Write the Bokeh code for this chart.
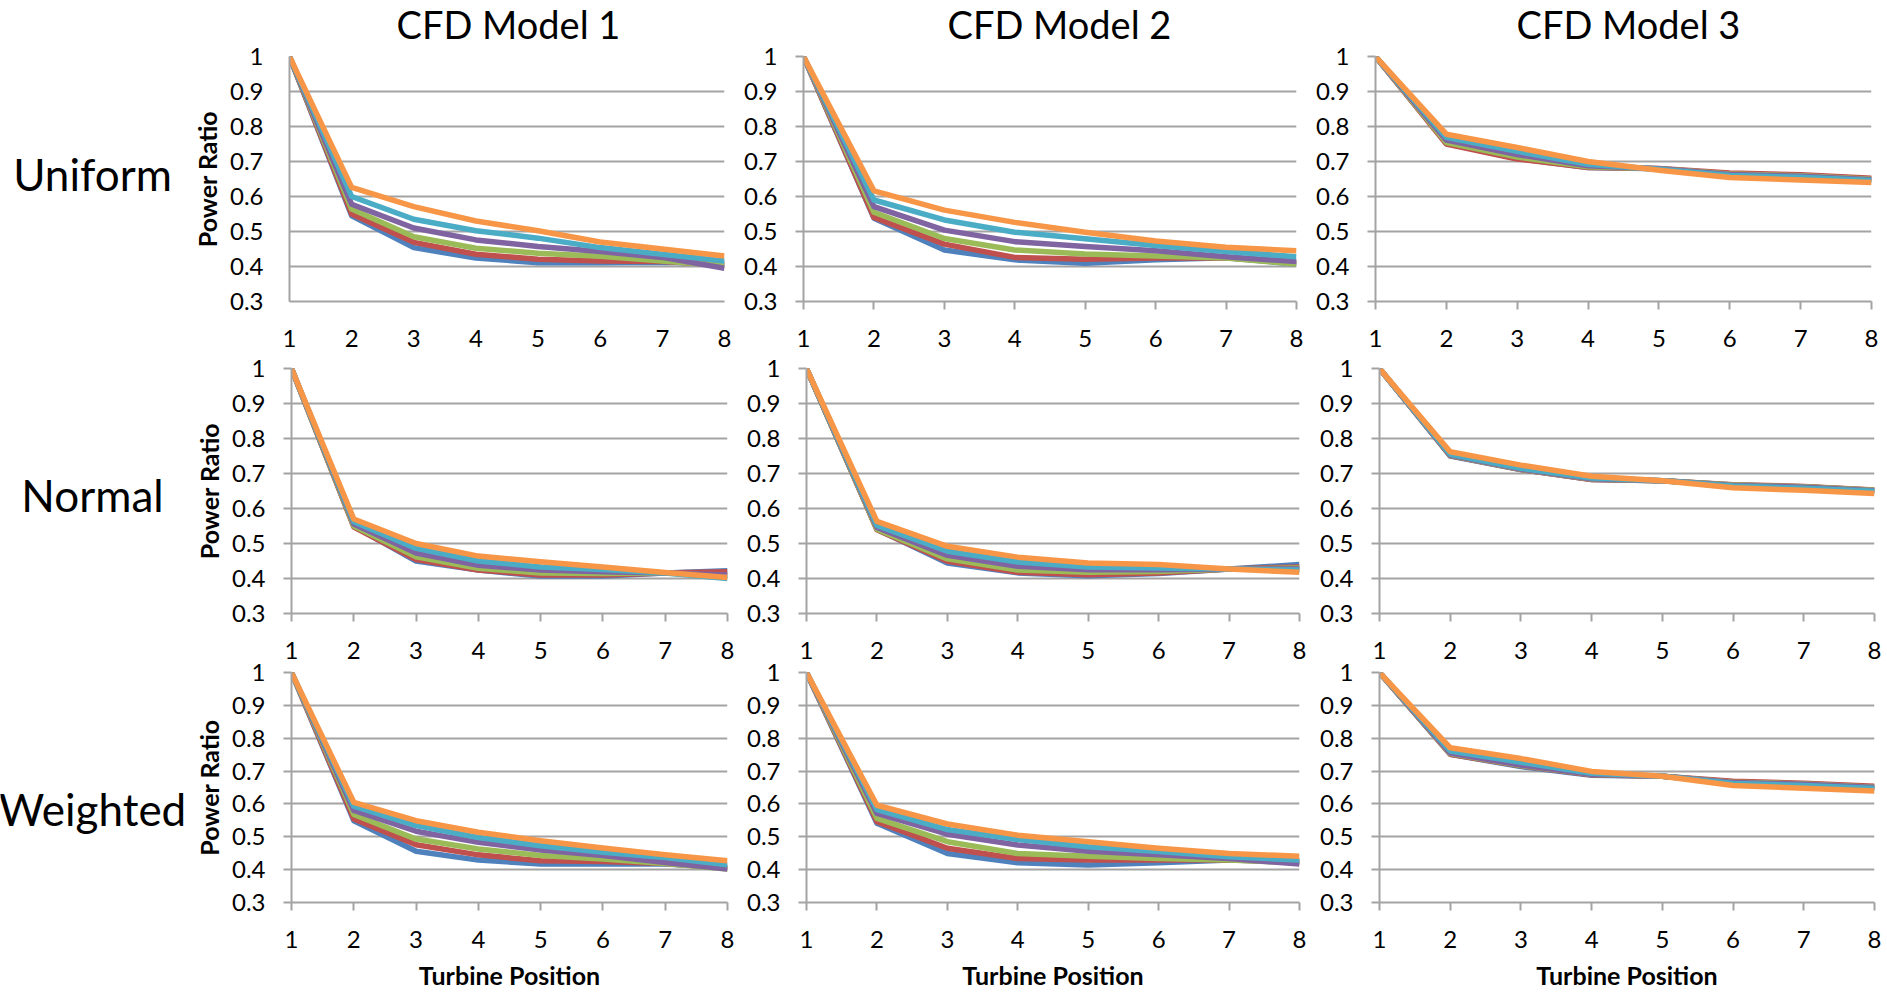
from bokeh.plotting import figure
from bokeh.layouts import column, row
from bokeh.models import Range1d, FixedTicker, CustomJSTickFormatter
from bokeh.core.properties import value
from bokeh.embed import file_html
from bokeh.resources import INLINE

# ---------------------------------------------------------------- data
turbine_positions = [1, 2, 3, 4, 5, 6, 7, 8]
power_ticks = [0.3, 0.4, 0.5, 0.6, 0.7, 0.8, 0.9, 1.0]

model_titles = ["CFD Model 1", "CFD Model 2", "CFD Model 3"]
distribution_names = ["Uniform", "Normal", "Weighted"]

# six cases per panel, drawn in this order (last one on top)
case_colors = ["#4F81BD", "#C0504D", "#9BBB59", "#8064A2", "#4BACC6", "#F79646"]

uniform_model1 = [
    [1, 0.545, 0.454, 0.424, 0.411, 0.411, 0.412, 0.409],
    [1, 0.550, 0.469, 0.435, 0.421, 0.416, 0.414, 0.405],
    [1, 0.564, 0.485, 0.452, 0.438, 0.429, 0.416, 0.402],
    [1, 0.578, 0.510, 0.476, 0.457, 0.443, 0.426, 0.395],
    [1, 0.600, 0.535, 0.502, 0.481, 0.454, 0.435, 0.416],
    [1, 0.626, 0.571, 0.530, 0.502, 0.470, 0.450, 0.430],
]
uniform_model2 = [
    [1, 0.538, 0.447, 0.419, 0.409, 0.419, 0.425, 0.407],
    [1, 0.540, 0.464, 0.426, 0.421, 0.424, 0.425, 0.411],
    [1, 0.555, 0.480, 0.447, 0.436, 0.430, 0.424, 0.407],
    [1, 0.571, 0.504, 0.471, 0.457, 0.445, 0.428, 0.414],
    [1, 0.590, 0.533, 0.498, 0.479, 0.460, 0.443, 0.428],
    [1, 0.616, 0.561, 0.526, 0.498, 0.473, 0.455, 0.445],
]
uniform_model3 = [
    [1, 0.752, 0.709, 0.683, 0.679, 0.664, 0.660, 0.650],
    [1, 0.750, 0.707, 0.683, 0.680, 0.667, 0.662, 0.652],
    [1, 0.754, 0.713, 0.685, 0.679, 0.664, 0.659, 0.649],
    [1, 0.761, 0.720, 0.688, 0.679, 0.663, 0.658, 0.648],
    [1, 0.769, 0.729, 0.692, 0.678, 0.660, 0.655, 0.646],
    [1, 0.778, 0.740, 0.700, 0.675, 0.654, 0.647, 0.640],
]
normal_model1 = [
    [1, 0.550, 0.450, 0.424, 0.407, 0.407, 0.416, 0.422],
    [1, 0.547, 0.454, 0.424, 0.410, 0.410, 0.416, 0.419],
    [1, 0.550, 0.462, 0.429, 0.416, 0.414, 0.416, 0.407],
    [1, 0.556, 0.473, 0.438, 0.424, 0.419, 0.416, 0.410],
    [1, 0.562, 0.486, 0.450, 0.433, 0.426, 0.416, 0.400],
    [1, 0.570, 0.500, 0.464, 0.448, 0.433, 0.417, 0.403],
]
normal_model2 = [
    [1, 0.541, 0.444, 0.416, 0.408, 0.414, 0.427, 0.440],
    [1, 0.539, 0.449, 0.418, 0.411, 0.416, 0.427, 0.433],
    [1, 0.541, 0.456, 0.424, 0.418, 0.420, 0.427, 0.430],
    [1, 0.546, 0.466, 0.435, 0.425, 0.425, 0.427, 0.427],
    [1, 0.552, 0.478, 0.447, 0.433, 0.430, 0.427, 0.424],
    [1, 0.563, 0.492, 0.461, 0.444, 0.440, 0.427, 0.418],
]
normal_model3 = [
    [1, 0.750, 0.711, 0.683, 0.679, 0.667, 0.662, 0.652],
    [1, 0.751, 0.711, 0.683, 0.679, 0.668, 0.663, 0.653],
    [1, 0.752, 0.712, 0.684, 0.679, 0.667, 0.662, 0.652],
    [1, 0.753, 0.713, 0.685, 0.679, 0.666, 0.661, 0.651],
    [1, 0.755, 0.715, 0.687, 0.679, 0.664, 0.658, 0.649],
    [1, 0.762, 0.724, 0.692, 0.679, 0.659, 0.652, 0.643],
]
weighted_model1 = [
    [1, 0.549, 0.456, 0.429, 0.417, 0.417, 0.417, 0.407],
    [1, 0.554, 0.476, 0.445, 0.427, 0.425, 0.419, 0.405],
    [1, 0.568, 0.493, 0.463, 0.443, 0.432, 0.419, 0.402],
    [1, 0.580, 0.517, 0.483, 0.460, 0.443, 0.422, 0.402],
    [1, 0.593, 0.534, 0.498, 0.473, 0.453, 0.437, 0.415],
    [1, 0.605, 0.549, 0.514, 0.488, 0.466, 0.445, 0.427],
]
weighted_model2 = [
    [1, 0.541, 0.449, 0.421, 0.414, 0.421, 0.429, 0.424],
    [1, 0.546, 0.465, 0.434, 0.429, 0.429, 0.429, 0.424],
    [1, 0.556, 0.485, 0.449, 0.441, 0.434, 0.429, 0.421],
    [1, 0.571, 0.508, 0.475, 0.456, 0.445, 0.434, 0.417],
    [1, 0.583, 0.522, 0.492, 0.470, 0.455, 0.439, 0.429],
    [1, 0.596, 0.539, 0.505, 0.485, 0.465, 0.449, 0.441],
]
weighted_model3 = [
    [1, 0.751, 0.714, 0.687, 0.684, 0.666, 0.661, 0.651],
    [1, 0.751, 0.716, 0.689, 0.684, 0.669, 0.663, 0.654],
    [1, 0.753, 0.717, 0.690, 0.684, 0.666, 0.661, 0.651],
    [1, 0.755, 0.718, 0.690, 0.684, 0.665, 0.660, 0.650],
    [1, 0.761, 0.727, 0.693, 0.684, 0.662, 0.656, 0.647],
    [1, 0.771, 0.738, 0.699, 0.684, 0.656, 0.648, 0.639],
]

panel_data = [
    [uniform_model1, uniform_model2, uniform_model3],
    [normal_model1, normal_model2, normal_model3],
    [weighted_model1, weighted_model2, weighted_model3],
]

# ---------------------------------------------------------------- styling
FONT = "Lato"
GRID_GRAY = "#A3A3A3"
LABEL_COL_W = 188
TITLE_STRIP_H = 46
OVERLAP = 20  # canvases reach into their neighbours so edge labels are not clipped

# per-row: figure height, top border, bottom border, top margin (all in px)
row_specs = [
    (306 + 2 * OVERLAP, 10 + OVERLAP, 51 + OVERLAP, -OVERLAP),
    (309 + 2 * OVERLAP, 16 + OVERLAP, 48 + OVERLAP, -2 * OVERLAP),
    (331 + OVERLAP, 11 + OVERLAP, 90, -2 * OVERLAP),
]
# per-row, per-column: figure width, left border, right border
col_geoms = [
    [(550, 99, 14), (570, 65, 12), (579, 67, 16)],
    [(554, 103, 15), (570, 64, 13), (575, 67, 13)],
    [(554, 103, 15), (570, 64, 13), (575, 67, 13)],
]


def make_panel(series, r, c):
    h, bt, bb, _ = row_specs[r]
    w, bl, br = col_geoms[r][c]
    p = figure(width=w, height=h,
               x_range=Range1d(1, 8), y_range=Range1d(0.3, 1.0),
               min_border_left=bl, min_border_right=br,
               min_border_top=bt, min_border_bottom=bb,
               output_backend="svg", toolbar_location=None, tools="")
    p.outline_line_color = None
    p.background_fill_color = None
    p.border_fill_color = None

    tick_out = 0 if (r == 0 and c == 0) else 8

    p.xaxis.ticker = FixedTicker(ticks=turbine_positions)
    p.yaxis.ticker = FixedTicker(ticks=power_ticks)
    p.yaxis.formatter = CustomJSTickFormatter(
        code="return String(Math.round(tick * 10) / 10);")

    for ax in p.axis:
        ax.axis_line_color = GRID_GRAY
        ax.axis_line_width = 2
        ax.major_tick_line_color = GRID_GRAY
        ax.major_tick_line_width = 2
        ax.major_tick_in = 0
        ax.major_tick_out = tick_out
        ax.minor_tick_in = 0
        ax.minor_tick_out = 0
        ax.major_label_text_font = FONT
        ax.major_label_text_font_size = "24px"
        ax.major_label_text_color = "black"
        ax.axis_label_text_font = FONT
        ax.axis_label_text_font_style = "bold"
        ax.axis_label_text_font_size = "25px"
        ax.axis_label_text_color = "black"

    p.xaxis.major_label_standoff = 28 - tick_out
    p.yaxis.major_label_standoff = 26 - tick_out

    if c == 0:
        p.yaxis.axis_label = "Power Ratio"
        p.yaxis.axis_label_standoff = 5
    if r == 2:
        p.xaxis.axis_label = "Turbine Position"
        p.xaxis.axis_label_standoff = 9

    p.xgrid.visible = False
    p.ygrid.grid_line_color = GRID_GRAY
    p.ygrid.grid_line_width = 2

    for vals, color in zip(series, case_colors):
        p.line(turbine_positions, vals, line_color=color, line_width=5.5,
               line_join="round")
    return p


def make_text_strip(width, height, xs, ys, texts, size, baseline):
    p = figure(width=width, height=height,
               x_range=Range1d(0, width), y_range=Range1d(0, height),
               min_border=0, x_axis_location=None, y_axis_location=None,
               output_backend="svg", toolbar_location=None, tools="")
    p.outline_line_color = None
    p.background_fill_color = None
    p.border_fill_color = None
    p.grid.visible = False
    p.text(x=xs, y=ys, text=texts, text_align="center",
           text_baseline=baseline, text_font=value(FONT),
           text_font_size=value(size), text_color="black")
    return p


title_strip = make_text_strip(1887, TITLE_STRIP_H, [508, 1059, 1628],
                              [23, 23, 23], model_titles, "38px", "alphabetic")

row_label_y = [180, 169, 143]
rows = [title_strip]
for r in range(3):
    h, _, _, top_margin = row_specs[r]
    label = make_text_strip(LABEL_COL_W, h, [92], [row_label_y[r]],
                            [distribution_names[r]], "44px", "middle")
    panels = [make_panel(panel_data[r][c], r, c) for c in range(3)]
    rows.append(row(label, *panels, margin=(top_margin, 0, 0, 0)))

layout = column(*rows)

open("out.html", "w").write(file_html(layout, INLINE, title="Power Ratio by Turbine Position"))
